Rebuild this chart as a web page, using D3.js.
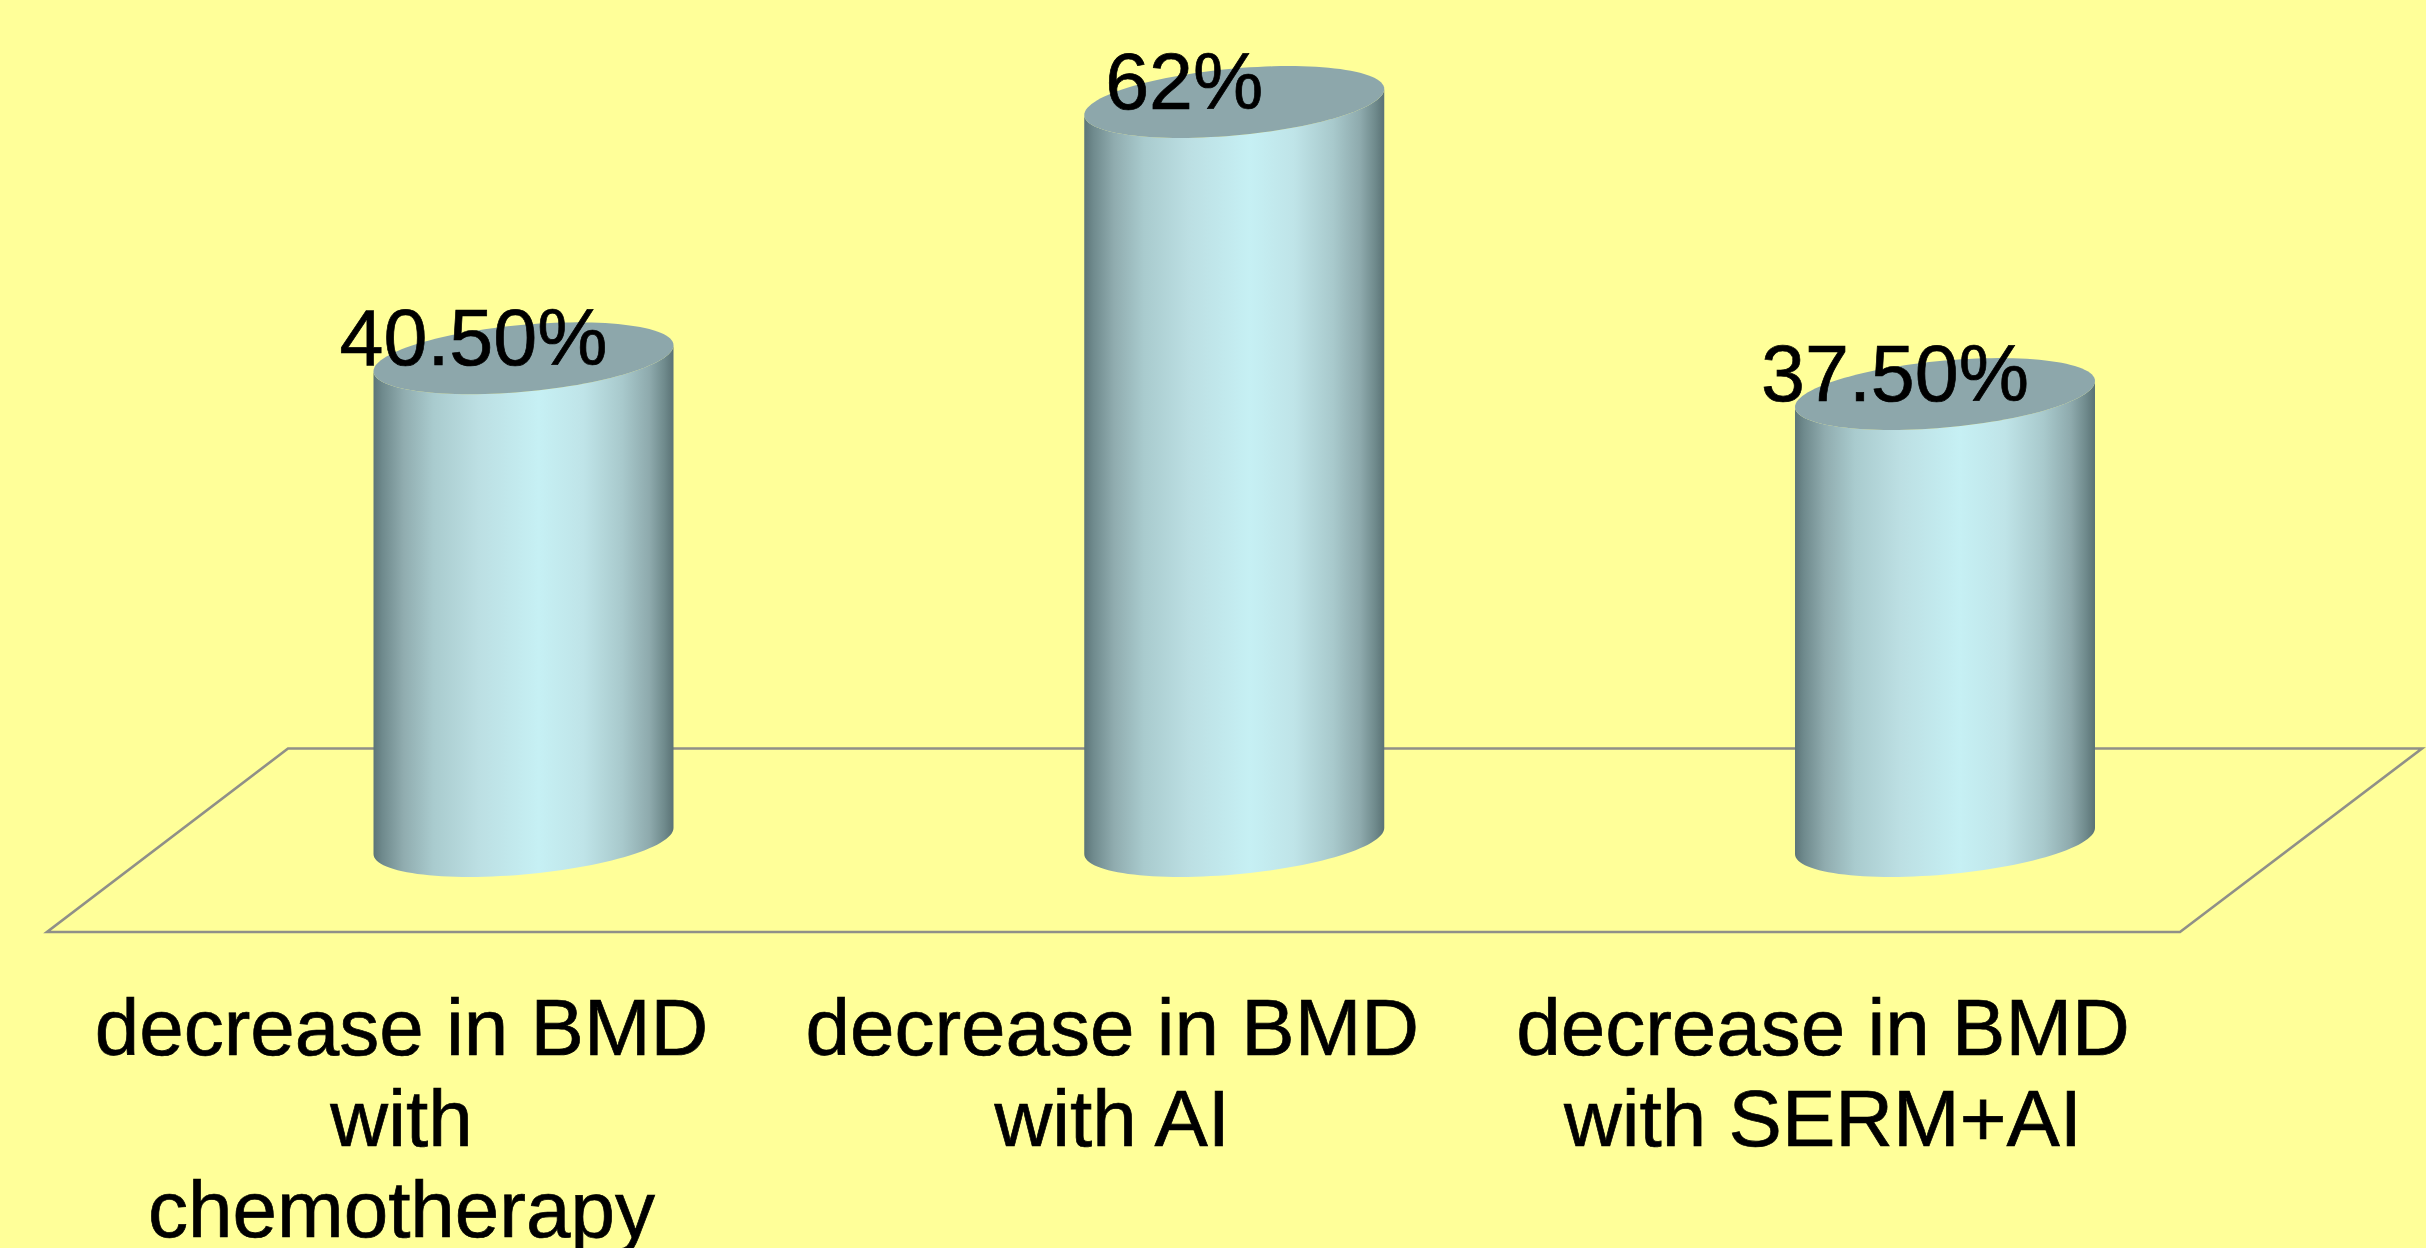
<!DOCTYPE html>
<html>
<head>
<meta charset="utf-8">
<title>Decrease in BMD</title>
<script src="https://cdnjs.cloudflare.com/ajax/libs/d3/7.8.5/d3.min.js"></script>
<style>
  html, body { margin: 0; padding: 0; background: #FFFF99; }
  svg { display: block; }
  text { font-family: "Liberation Sans", Arial, sans-serif; fill: #000; stroke: #000; stroke-width: 0.7; }
</style>
</head>
<body>
<svg id="chart" width="2426" height="1248"></svg>
<script>
// Chart data
const categories = ["chemotherapy", "AI", "SERM+AI"];
const values = [40.5, 62, 37.5];
const valueLabels = ["40.50%", "62%", "37.50%"];
const categoryLines = [
  ["decrease in BMD", "with", "chemotherapy"],
  ["decrease in BMD", "with AI"],
  ["decrease in BMD", "with SERM+AI"]
];

const svg = d3.select("#chart");

// Scales
const x = d3.scalePoint().domain(categories).range([523.5, 1945]);
const y = d3.scaleLinear().domain([0, 62]).range([841, 102]);

// Cylinder geometry: a sheared ellipse gives the tilted 3D cap
const rx = 150, ry = 33.5, shear = 13;
const rimPoint = (cx, cy, t) => [
  cx + rx * Math.cos(t),
  cy + ry * Math.sin(t) - shear * Math.cos(t)
];
const line = d3.line();
const arcSteps = d3.range(0, 61).map(i => i / 60 * Math.PI);

const capPath = (cx, cy) =>
  line(d3.range(0, 121).map(i => rimPoint(cx, cy, i / 120 * 2 * Math.PI))) + "Z";

const bodyPath = (cx, yTop, yBase) => {
  const lower = arcSteps.map(t => rimPoint(cx, yBase, t));       // right to left along the base
  const upper = arcSteps.map(t => rimPoint(cx, yTop, t)).reverse(); // left to right along the top
  return line(lower.concat(upper)) + "Z";
};

// Side shading of the cylinders
const grad = svg.append("defs").append("linearGradient")
  .attr("id", "cylinder").attr("x1", 0).attr("x2", 1).attr("y1", 0).attr("y2", 0);
[
  [0, "#5c7578"], [0.03, "#6f8a8d"], [0.1, "#90acaf"], [0.2, "#a9cbce"],
  [0.35, "#bcdfe3"], [0.55, "#c6f0f4"], [0.7, "#bfe4e8"], [0.83, "#a8c9cc"],
  [0.92, "#8eaaad"], [0.97, "#6f8a8c"], [1, "#5a7275"]
].forEach(([o, c]) => grad.append("stop").attr("offset", o).attr("stop-color", c));

// Floor parallelogram
const floor = [[288, 748.5], [2422, 748.5], [2180, 932], [47, 932]];
svg.append("path")
  .attr("d", line(floor) + "Z")
  .attr("fill", "none")
  .attr("stroke", "#909088")
  .attr("stroke-width", 2.6);

// Cylinders
const bars = svg.selectAll("g.bar")
  .data(categories.map((c, i) => ({ c, v: values[i], label: valueLabels[i], lines: categoryLines[i] })))
  .join("g").attr("class", "bar");

bars.append("path")
  .attr("d", d => bodyPath(x(d.c), y(d.v), y(0)))
  .attr("fill", "url(#cylinder)");

bars.append("path")
  .attr("d", d => capPath(x(d.c), y(d.v)))
  .attr("fill", "#8da7ab");

// Value labels sit on the caps, shifted left of centre
bars.append("text")
  .attr("x", d => x(d.c) - 50)
  .attr("y", d => y(d.v) + 7)
  .attr("text-anchor", "middle")
  .attr("font-size", 79)
  .text(d => d.label);

// Category labels under the floor
bars.append("text")
  .attr("text-anchor", "middle")
  .attr("font-size", 80)
  .selectAll("tspan")
  .data(d => d.lines.map(l => ({ l, cx: x(d.c) - 122 })))
  .join("tspan")
  .attr("x", d => d.cx)
  .attr("y", (d, i) => 1055 + i * 91)
  .text(d => d.l);
</script>
</body>
</html>
